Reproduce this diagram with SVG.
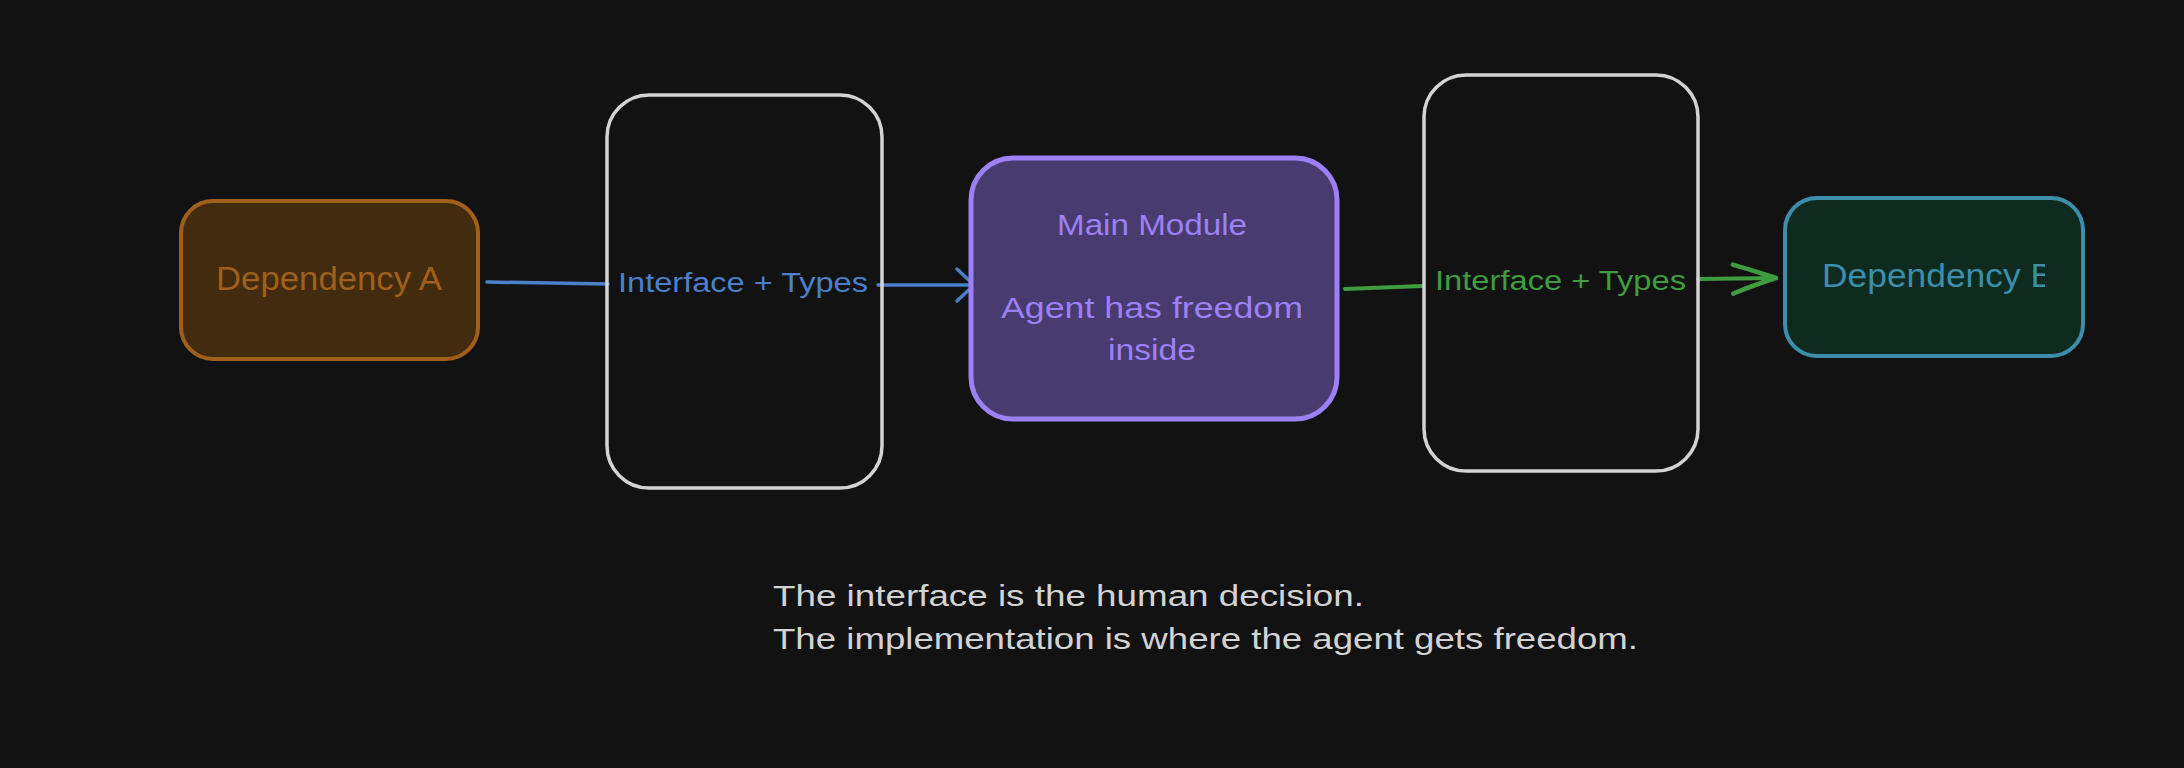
<svg xmlns="http://www.w3.org/2000/svg" width="2184" height="768" viewBox="0 0 2184 768">
  <defs>
    <style>
      .hand { font-family: "Liberation Sans", "DejaVu Sans", sans-serif; }
      .iface { fill: none; stroke: #d3d3d3; stroke-width: 3.5; }
      .lbl { font-size: 27px; text-anchor: start; }
      .blue { stroke: #4a80c8; stroke-width: 3.5; fill: none; stroke-linecap: round; }
      .green { stroke: #3f9c3f; stroke-width: 4; fill: none; stroke-linecap: round; }
    </style>
    <marker id="ahBlue" markerUnits="userSpaceOnUse" viewBox="-30 -22 34 44" markerWidth="34" markerHeight="44" refX="0" refY="0" orient="auto">
      <path d="M-17,-16 L0,0 L-17,16" fill="none" stroke="#4a80c8" stroke-width="3.5" stroke-linecap="round" stroke-linejoin="round"/>
    </marker>
    <marker id="ahGreen" markerUnits="userSpaceOnUse" viewBox="-50 -22 54 44" markerWidth="54" markerHeight="44" refX="0" refY="0" orient="auto">
      <path d="M-43,-14 Q-20,-7 0,0 Q-20,6 -43,15" fill="none" stroke="#3f9c3f" stroke-width="4.5" stroke-linecap="round" stroke-linejoin="round"/>
    </marker>
    <clipPath id="clipB">
      <rect x="1784" y="197" width="261" height="160"/>
    </clipPath>
  </defs>

  <rect x="0" y="0" width="2184" height="768" fill="#121212"/>

  <g id="connectors">
    <g id="edge-a-main">
      <path class="blue" d="M487,282 L608,284"/>
      <path class="blue" d="M878,285 L974,285" marker-end="url(#ahBlue)"/>
      <text class="hand lbl" x="618" y="292" fill="#4a80c8" textLength="250" lengthAdjust="spacingAndGlyphs">Interface + Types</text>
    </g>
    <g id="edge-main-b">
      <path class="green" d="M1345,289 L1422,286"/>
      <path class="green" d="M1698,279 L1776,278" marker-end="url(#ahGreen)"/>
      <text class="hand lbl" x="1435" y="290" fill="#3f9c3f" textLength="251" lengthAdjust="spacingAndGlyphs">Interface + Types</text>
    </g>
  </g>

  <g id="dep-a">
    <rect x="181" y="201" width="297" height="158" rx="32" fill="#432b0f" stroke="#a0601c" stroke-width="4"/>
    <text class="hand" x="216" y="290" font-size="33" fill="#a0601c" textLength="226" lengthAdjust="spacingAndGlyphs">Dependency A</text>
  </g>

  <g id="interface-1">
    <rect class="iface" x="607" y="95" width="275" height="393" rx="42"/>
  </g>

  <g id="main-module">
    <rect x="971" y="158" width="366" height="261" rx="42" fill="#483b6f" stroke="#9c80f5" stroke-width="5"/>
    <text class="hand" x="1057" y="235" font-size="29" fill="#9c80f5" textLength="190" lengthAdjust="spacingAndGlyphs">Main Module</text>
    <text class="hand" x="1001" y="318" font-size="30" fill="#9c80f5" textLength="302" lengthAdjust="spacingAndGlyphs">Agent has freedom</text>
    <text class="hand" x="1108" y="360" font-size="30" fill="#9c80f5" textLength="88" lengthAdjust="spacingAndGlyphs">inside</text>
  </g>

  <g id="interface-2">
    <rect class="iface" x="1424" y="75" width="274" height="396" rx="42"/>
  </g>

  <g id="dep-b">
    <rect x="1785" y="198" width="298" height="158" rx="32" fill="#0f2b1f" stroke="#3d8eab" stroke-width="4"/>
    <text class="hand" x="1822" y="287" font-size="33" fill="#3d8eab" textLength="232" lengthAdjust="spacingAndGlyphs" clip-path="url(#clipB)">Dependency B</text>
  </g>

  <g id="note">
    <text class="hand" x="773" y="606" font-size="30" fill="#d3d3d3" textLength="591" lengthAdjust="spacingAndGlyphs">The interface is the human decision.</text>
    <text class="hand" x="773" y="649" font-size="30" fill="#d3d3d3" textLength="865" lengthAdjust="spacingAndGlyphs">The implementation is where the agent gets freedom.</text>
  </g>
</svg>
